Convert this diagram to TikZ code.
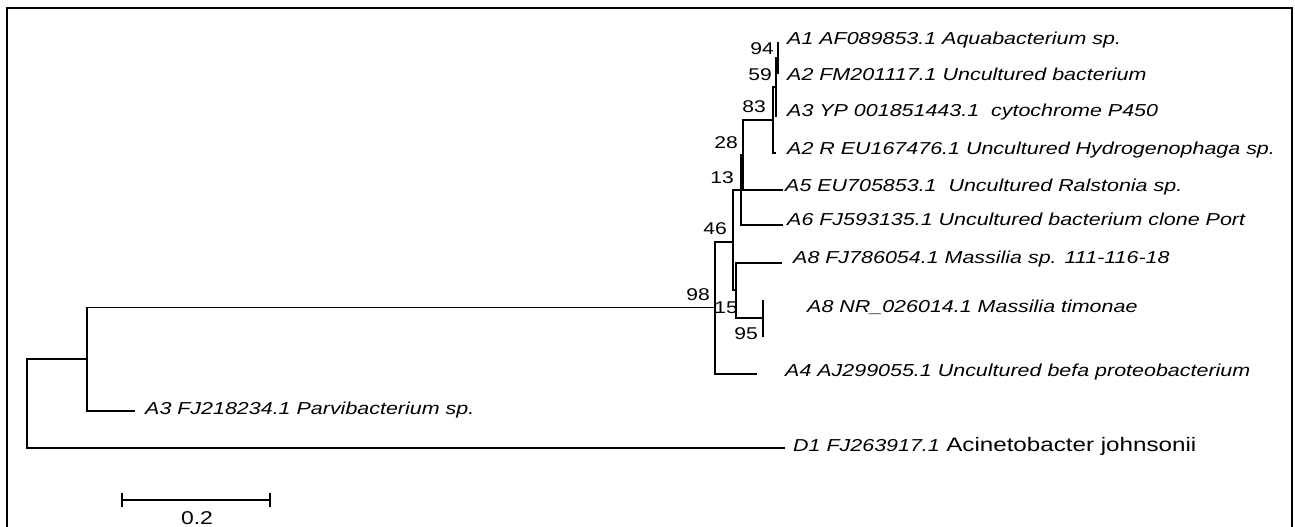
\documentclass[tikz,border=0pt]{standalone}
\usepackage{fontspec}
\usepackage{tikz}
\usetikzlibrary{positioning}
\newfontfamily\treefont[FakeStretch=1.24]{Liberation Sans}
\tikzset{
  branch/.style={draw, line width=1.6pt},
  taxon/.style={anchor=west, inner sep=0pt, font=\treefont\fontsize{17.3}{20}\selectfont\itshape},
  species/.style={inner sep=0pt, font=\treefont\fontsize{19.5}{24}\selectfont},
  boot/.style={inner sep=0pt, font=\treefont\fontsize{17}{20}\selectfont},
  frame/.style={draw, line width=1.8pt},
}
\begin{document}
\begin{tikzpicture}[x=1pt, y=-1pt]
  \clip (0,0) rectangle (1295,527);
  \fill[white] (0,0) rectangle (1295,527);
  \draw[frame] (7,540) -- (7,8) -- (1292,8) -- (1292,540);

  %% === internal nodes (x = distance, y = middle of children) ===
  \coordinate (root) at (27,403.5);
  \coordinate (nOut) at (87,359);
  \coordinate (n98) at (715,307.5);
  \coordinate (n46) at (733,242);
  \coordinate (n13) at (741,190);
  \coordinate (n28) at (743,155);
  \coordinate (n83) at (773,120);
  \coordinate (n59) at (776,87);
  \coordinate (n94) at (778,58);
  \coordinate (n15) at (736,290);
  \coordinate (n95) at (763,318);

  %% === tips ===
  \coordinate (tA1) at (778,42);
  \coordinate (tA2) at (778,74);
  \coordinate (tA3) at (776,117);
  \coordinate (tA2R) at (776,153);
  \coordinate (tA5) at (783,190);
  \coordinate (tA6) at (783,225);
  \coordinate (tA8a) at (782,263);
  \coordinate (tA8b) at (763,300);
  \coordinate (tA8c) at (763,337);
  \coordinate (tA4) at (757,374);
  \coordinate (tA3p) at (135,411);
  \coordinate (tD1) at (785,448);

  % Branches
  \draw[branch] (root) |- (nOut);
  \draw[branch] (root) |- (tD1);
  \draw[branch] (nOut) |- (n98);
  \draw[branch] (nOut) |- (tA3p);
  \draw[branch] (n98) |- (n46);
  \draw[branch] (n98) |- (tA4);
  \draw[branch] (n46) |- (n13);
  \draw[branch] (n46) |- (n15);
  \draw[branch] (n13) |- (n28);
  \draw[branch] (n13) |- (tA6);
  \draw[branch] (n28) |- (n83);
  \draw[branch] (n28) |- (tA5);
  \draw[branch] (n83) |- (n59);
  \draw[branch] (n83) |- (tA2R);
  \draw[branch] (n59) |- (n94);
  \draw[branch] (n59) |- (tA3);
  \draw[branch] (n94) |- (tA1);
  \draw[branch] (n94) |- (tA2);
  \draw[branch] (n15) |- (tA8a);
  \draw[branch] (n15) |- (n95);
  \draw[branch] (n95) |- (tA8b);
  \draw[branch] (n95) |- (tA8c);

  % Taxon labels
  \node[taxon] at (787,40) (lA1) {A1 AF089853.1 Aquabacterium sp.};
  \node[taxon] at (787,74) (lA2) {A2 FM201117.1 Uncultured bacterium};
  \node[taxon] at (787,112) (lA3) {A3 YP 001851443.1\ \ cytochrome P450};
  \node[taxon] at (787,150) (lA2R) {A2 R EU167476.1 Uncultured Hydrogenophaga sp.};
  \node[taxon] at (785,187) (lA5) {A5 EU705853.1\ \ Uncultured Ralstonia sp.};
  \node[taxon] at (787,219) (lA6) {A6 FJ593135.1 Uncultured bacterium clone Port};
  \node[taxon] at (793,259) (lA8a) {A8 FJ786054.1 Massilia sp. 111-116-18};
  \node[taxon] at (807,307) (lA8b) {A8 NR\_026014.1 Massilia timonae};
  \node[taxon] at (785,372) (lA4) {A4 AJ299055.1 Uncultured befa proteobacterium};
  \node[taxon] at (145,410) (lA3p) {A3 FJ218234.1 Parvibacterium sp.};
  \node[taxon] at (793,446) (lD1) {D1 FJ263917.1};
  \node[species, base right=6pt of lD1] (lAci) {Acinetobacter johnsonii};

  % Bootstrap values
  \node[boot] at (762,49) (b94) {94};
  \node[boot] at (760,75) (b59) {59};
  \node[boot] at (754,107) (b83) {83};
  \node[boot] at (726,143) (b28) {28};
  \node[boot] at (722,178) (b13) {13};
  \node[boot] at (715,229) (b46) {46};
  \node[boot] at (698,295) (b98) {98};
  \node[boot] at (726,308) (b15) {15};
  \node[boot] at (746,334) (b95) {95};

  % Scale bar
  \coordinate (sbL) at (122,500);
  \coordinate (sbR) at (270,500);
  \draw[branch] (sbL) -- (sbR);
  \draw[branch] ([yshift=-7pt]sbL) -- ([yshift=7pt]sbL);
  \draw[branch] ([yshift=-7pt]sbR) -- ([yshift=7pt]sbR);
  \node[boot, font=\treefont\fontsize{18.5}{22}\selectfont] at (197,518) (sbT) {0.2};

\end{tikzpicture}
\end{document}
